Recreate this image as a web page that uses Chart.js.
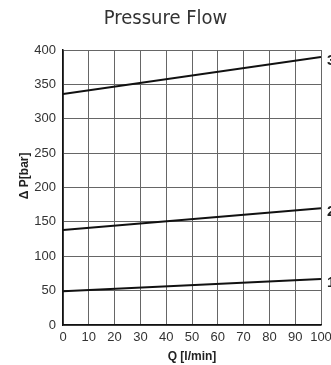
<!DOCTYPE html>
<html lang="en">
<head>
  <meta charset="UTF-8">
  <title>Pressure Flow</title>
  <script src="https://cdn.jsdelivr.net/npm/chart.js"></script>
  <style>
    html, body {
      margin: 0;
      padding: 0;
      background: #ffffff;
    }
    .chart-box {
      width: 331px;
      height: 365px;
    }
  </style>
</head>
<body>
  <div class="chart-box"><canvas id="flowChart"></canvas></div>

  <script>
    const flows = [0, 100];
    const curve1 = [49, 67];
    const curve2 = [138, 170];
    const curve3 = [336, 390];
    const curveNames = ['1', '2', '3'];
    const xTicks = [0, 10, 20, 30, 40, 50, 60, 70, 80, 90, 100];
    const yTicks = [0, 50, 100, 150, 200, 250, 300, 350, 400];

    const toPoints = vals => flows.map((f, i) => ({ x: f, y: vals[i] }));

    // numbers at the right end of each curve (they run off the canvas edge like the original)
    const endLabels = {
      id: 'endLabels',
      afterDatasetsDraw(chart) {
        const ctx = chart.ctx;
        const xs = chart.scales.x;
        const ys = chart.scales.y;
        ctx.save();
        ctx.fillStyle = '#222';
        ctx.font = 'bold 15px "Liberation Sans", Arial, sans-serif';
        ctx.textBaseline = 'middle';
        chart.data.datasets.forEach((ds, i) => {
          const last = ds.data[ds.data.length - 1];
          ctx.fillText(curveNames[i], xs.getPixelForValue(last.x) + 6, ys.getPixelForValue(last.y) + 4);
        });
        ctx.restore();
      }
    };

    const lineStyle = {
      borderColor: '#111',
      borderWidth: 2,
      pointRadius: 0,
      fill: false,
      tension: 0
    };

    new Chart(document.getElementById('flowChart'), {
      type: 'line',
      data: {
        datasets: [
          { label: 'Curve 1', data: toPoints(curve1), ...lineStyle },
          { label: 'Curve 2', data: toPoints(curve2), ...lineStyle },
          { label: 'Curve 3', data: toPoints(curve3), ...lineStyle }
        ]
      },
      options: {
        responsive: true,
        maintainAspectRatio: false,
        animation: false,
        layout: { padding: 0 },
        plugins: {
          legend: { display: false },
          tooltip: { enabled: false },
          title: {
            display: true,
            text: 'Pressure Flow',
            color: '#333',
            font: { family: '"Liberation Sans Narrow", "DejaVu Sans Condensed", Roboto, sans-serif', size: 20, weight: 'normal', lineHeight: 1.2 },
            padding: { top: 6.5, bottom: 19.5 }
          }
        },
        scales: {
          x: {
            type: 'linear',
            min: 0,
            max: 100,
            afterBuildTicks: s => { s.ticks = xTicks.map(v => ({ value: v })); },
            afterFit: s => { s.height = 40; s.paddingRight = 10; },
            ticks: { color: '#333', font: { family: 'Arial, "Liberation Sans", sans-serif', size: 13 }, padding: 5, maxRotation: 0 },
            grid: { color: '#666', lineWidth: 1, drawTicks: false },
            border: { color: '#111', width: 1.5 },
            title: {
              display: true,
              text: 'Q [l/min]',
              color: '#222',
              font: { family: 'Arial, "Liberation Sans", sans-serif', size: 12, weight: 'bold' },
              padding: { top: 0, bottom: 1 }
            }
          },
          y: {
            min: 0,
            max: 400,
            afterBuildTicks: s => { s.ticks = yTicks.map(v => ({ value: v })); },
            afterFit: s => { s.width = 63; },
            ticks: { color: '#333', font: { family: 'Arial, "Liberation Sans", sans-serif', size: 13 }, padding: 7 },
            grid: { color: '#666', lineWidth: 1, drawTicks: false },
            border: { color: '#111', width: 1.5 },
            title: {
              display: true,
              text: '       \u0394 P[bar]',
              color: '#222',
              font: { family: 'Arial, "Liberation Sans", sans-serif', size: 12, weight: 'bold' },
              padding: { top: 17, bottom: 0 }
            }
          }
        }
      },
      plugins: [endLabels]
    });
  </script>
</body>
</html>
